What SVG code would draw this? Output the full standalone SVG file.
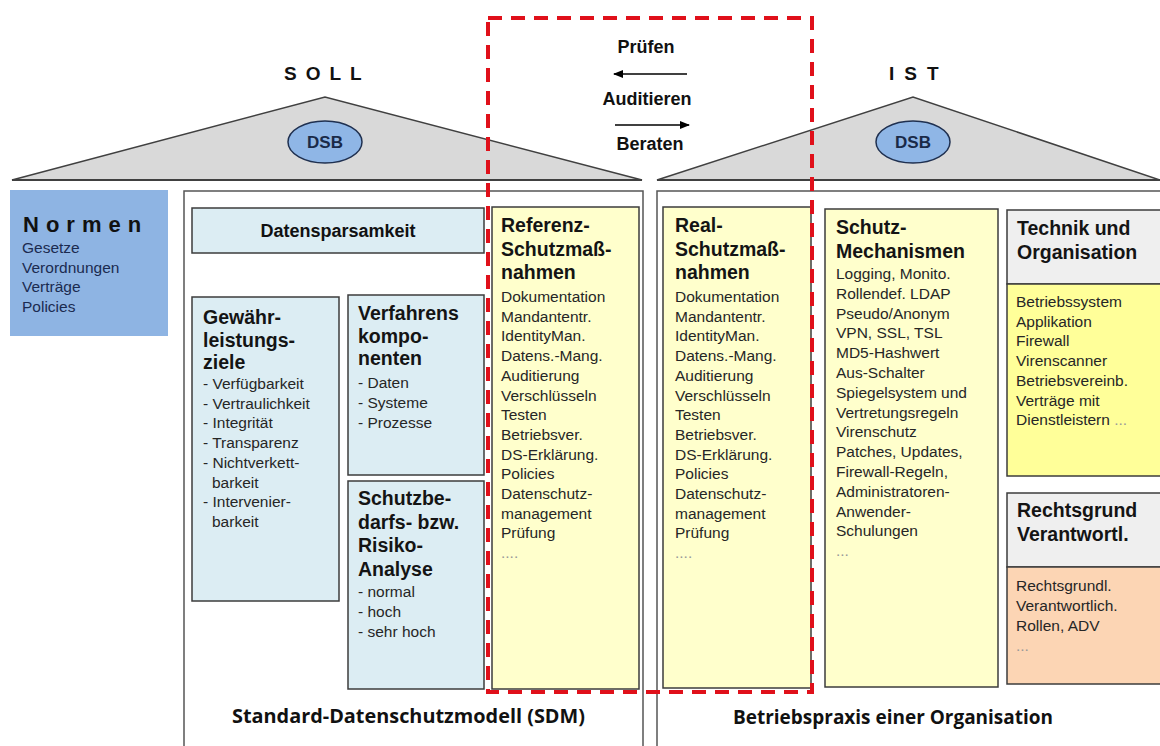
<svg xmlns="http://www.w3.org/2000/svg" width="1160" height="746" viewBox="0 0 1160 746">
<style>
text{font-family:"Liberation Sans",Arial,sans-serif;}
.t{font-size:19.5px;font-weight:bold;fill:#141414;}
.i{font-size:15.5px;fill:#262626;}
.box{stroke:#3c3c3c;stroke-width:1.5;}
.blue{fill:#dcedf3;}
.yel{fill:#ffffcc;}
.hdr{fill:#efefef;}
.wall{fill:none;stroke:#555;stroke-width:1.5;}
.roof{fill:#d9d9d9;stroke:#404040;stroke-width:1.5;}
.base{stroke:#404040;stroke-width:2;}
.dsb{fill:#8fb6e6;stroke:#1f3050;stroke-width:1.5;}
.dsbt{font-size:17px;font-weight:bold;fill:#1a2a48;text-anchor:middle;}
.big{font-size:19px;font-weight:bold;fill:#111;}
.lbl{font-size:18px;font-weight:bold;fill:#111;text-anchor:middle;}
.foot{font-family:"Open Sans","Noto Sans",sans-serif;font-size:19px;font-weight:bold;fill:#111;}
.norm{font-size:15.5px;fill:#1b2b50;}
.arrow{stroke:#000;stroke-width:1.5;fill:none;}
</style>
<defs>
<marker id="ah" markerWidth="10" markerHeight="8" refX="9" refY="4" orient="auto" markerUnits="userSpaceOnUse"><path d="M0,0 L10,4 L0,8 z" fill="#000"/></marker>
</defs>
<rect width="1160" height="746" fill="#ffffff"/>

<g id="soll-roof">
<polygon class="roof" points="12,180 325,97 642,180"/>
<line class="base" x1="12" y1="180" x2="642" y2="180"/>
<text class="big" x="284" y="80" letter-spacing="9">SOLL</text>
<ellipse class="dsb" cx="325" cy="142" rx="37" ry="21"/>
<text class="dsbt" x="325" y="148">DSB</text>
</g>

<g id="ist-roof">
<polygon class="roof" points="657,180 913,97 1160,180"/>
<line class="base" x1="657" y1="180" x2="1160" y2="180"/>
<text class="big" x="889" y="80" letter-spacing="10">IST</text>
<ellipse class="dsb" cx="913" cy="142" rx="37" ry="21"/>
<text class="dsbt" x="913" y="148">DSB</text>
</g>

<g id="soll-building">
<path class="wall" d="M184,746 V191 H643 V746"/>
<text class="foot" x="232" y="723" textLength="353" lengthAdjust="spacingAndGlyphs">Standard-Datenschutzmodell (SDM)</text>
</g>

<g id="ist-building">
<path class="wall" d="M657,746 V191 H1160"/>
<text class="foot" x="733" y="724" textLength="320" lengthAdjust="spacingAndGlyphs">Betriebspraxis einer Organisation</text>
</g>

<g id="normen">
<rect x="10" y="190" width="158" height="146" fill="#8eb4e3"/>
<text x="23" y="232" font-size="22" font-weight="bold" fill="#111" letter-spacing="7">Normen</text>
<text class="norm" x="22" y="253">Gesetze<tspan x="22" dy="19.5">Verordnungen</tspan><tspan x="22" dy="19.5">Verträge</tspan><tspan x="22" dy="19.5">Policies</tspan></text>
</g>

<g id="datensparsamkeit">
<rect class="box blue" x="192" y="208" width="292" height="45"/>
<text x="338" y="237" font-size="18" font-weight="bold" fill="#111" text-anchor="middle">Datensparsamkeit</text>
</g>

<g id="gewaehrleistungsziele">
<rect class="box blue" x="192" y="297" width="147" height="304"/>
<text class="t" x="203" y="324">Gewähr-<tspan x="203" dy="23">leistungs-</tspan><tspan x="203" dy="22">ziele</tspan></text>
<text class="i" x="203" y="389">- Verfügbarkeit<tspan x="203" dy="19.7">- Vertraulichkeit</tspan><tspan x="203" dy="19.7">- Integrität</tspan><tspan x="203" dy="19.7">- Transparenz</tspan><tspan x="203" dy="19.7">- Nichtverkett-</tspan><tspan x="212" dy="19.7">barkeit</tspan><tspan x="203" dy="19.7">- Intervenier-</tspan><tspan x="212" dy="19.7">barkeit</tspan></text>
</g>

<g id="verfahrenskomponenten">
<rect class="box blue" x="348" y="295" width="136" height="180"/>
<text class="t" x="358" y="320">Verfahrens<tspan x="358" dy="23">kompo-</tspan><tspan x="358" dy="22">nenten</tspan></text>
<text class="i" x="358" y="388">- Daten<tspan x="358" dy="20">- Systeme</tspan><tspan x="358" dy="20">- Prozesse</tspan></text>
</g>

<g id="schutzbedarf">
<rect class="box blue" x="348" y="481" width="136" height="208"/>
<text class="t" x="358" y="505">Schutzbe-<tspan x="358" dy="23.5">darfs- bzw.</tspan><tspan x="358" dy="23.5">Risiko-</tspan><tspan x="358" dy="23.5">Analyse</tspan></text>
<text class="i" x="358" y="597">- normal<tspan x="358" dy="20">- hoch</tspan><tspan x="358" dy="20">- sehr hoch</tspan></text>
</g>

<g id="referenz-schutzmassnahmen">
<rect class="box yel" x="492" y="207" width="147" height="482"/>
<text class="t" x="501" y="232">Referenz-<tspan x="501" dy="23.5">Schutzmaß-</tspan><tspan x="501" dy="23.5">nahmen</tspan></text>
<text class="i" x="501" y="302">Dokumentation<tspan x="501" dy="19.7">Mandantentr.</tspan><tspan x="501" dy="19.7">IdentityMan.</tspan><tspan x="501" dy="19.7">Datens.-Mang.</tspan><tspan x="501" dy="19.7">Auditierung</tspan><tspan x="501" dy="19.7">Verschlüsseln</tspan><tspan x="501" dy="19.7">Testen</tspan><tspan x="501" dy="19.7">Betriebsver.</tspan><tspan x="501" dy="19.7">DS-Erklärung.</tspan><tspan x="501" dy="19.7">Policies</tspan><tspan x="501" dy="19.7">Datenschutz-</tspan><tspan x="501" dy="19.7">management</tspan><tspan x="501" dy="19.7">Prüfung</tspan><tspan x="501" dy="19.7" fill="#999">....</tspan></text>
</g>

<g id="real-schutzmassnahmen">
<rect class="box yel" x="663" y="207" width="148" height="481"/>
<text class="t" x="675" y="232">Real-<tspan x="675" dy="23.5">Schutzmaß-</tspan><tspan x="675" dy="23.5">nahmen</tspan></text>
<text class="i" x="675" y="302">Dokumentation<tspan x="675" dy="19.7">Mandantentr.</tspan><tspan x="675" dy="19.7">IdentityMan.</tspan><tspan x="675" dy="19.7">Datens.-Mang.</tspan><tspan x="675" dy="19.7">Auditierung</tspan><tspan x="675" dy="19.7">Verschlüsseln</tspan><tspan x="675" dy="19.7">Testen</tspan><tspan x="675" dy="19.7">Betriebsver.</tspan><tspan x="675" dy="19.7">DS-Erklärung.</tspan><tspan x="675" dy="19.7">Policies</tspan><tspan x="675" dy="19.7">Datenschutz-</tspan><tspan x="675" dy="19.7">management</tspan><tspan x="675" dy="19.7">Prüfung</tspan><tspan x="675" dy="19.7" fill="#999">....</tspan></text>
</g>

<g id="schutz-mechanismen">
<rect class="box yel" x="825" y="209" width="173" height="478"/>
<text class="t" x="836" y="234">Schutz-<tspan x="836" dy="23.5">Mechanismen</tspan></text>
<text class="i" x="836" y="279">Logging, Monito.<tspan x="836" dy="19.8">Rollendef.  LDAP</tspan><tspan x="836" dy="19.8">Pseudo/Anonym</tspan><tspan x="836" dy="19.8">VPN, SSL, TSL</tspan><tspan x="836" dy="19.8">MD5-Hashwert</tspan><tspan x="836" dy="19.8">Aus-Schalter</tspan><tspan x="836" dy="19.8">Spiegelsystem und</tspan><tspan x="836" dy="19.8">Vertretungsregeln</tspan><tspan x="836" dy="19.8">Virenschutz</tspan><tspan x="836" dy="19.8">Patches, Updates,</tspan><tspan x="836" dy="19.8">Firewall-Regeln,</tspan><tspan x="836" dy="19.8">Administratoren-</tspan><tspan x="836" dy="19.8">Anwender-</tspan><tspan x="836" dy="19.8">Schulungen</tspan><tspan x="836" dy="19.8" fill="#999">...</tspan></text>
</g>

<g id="technik-organisation">
<rect class="box hdr" x="1007" y="210" width="160" height="74"/>
<rect class="box" x="1007" y="284" width="160" height="192" fill="#ffff99"/>
<text class="t" x="1017" y="235">Technik und<tspan x="1017" dy="24">Organisation</tspan></text>
<text class="i" x="1016" y="307">Betriebssystem<tspan x="1016" dy="19.7">Applikation</tspan><tspan x="1016" dy="19.7">Firewall</tspan><tspan x="1016" dy="19.7">Virenscanner</tspan><tspan x="1016" dy="19.7">Betriebsvereinb.</tspan><tspan x="1016" dy="19.7">Verträge mit</tspan><tspan x="1016" dy="19.7">Dienstleistern <tspan fill="#999">...</tspan></tspan></text>
</g>

<g id="rechtsgrund">
<rect class="box hdr" x="1007" y="493" width="160" height="74"/>
<rect class="box" x="1007" y="567" width="160" height="117" fill="#fcd5b4"/>
<text class="t" x="1017" y="517">Rechtsgrund<tspan x="1017" dy="24">Verantwortl.</tspan></text>
<text class="i" x="1016" y="591">Rechtsgrundl.<tspan x="1016" dy="20">Verantwortlich.</tspan><tspan x="1016" dy="20">Rollen, ADV</tspan><tspan x="1016" dy="20" fill="#999">...</tspan></text>
</g>

<g id="connectors">
<line class="arrow" x1="687" y1="74" x2="614" y2="74" marker-end="url(#ah)"/>
<line class="arrow" x1="615" y1="125" x2="689" y2="125" marker-end="url(#ah)"/>
<text class="lbl" x="646" y="53">Prüfen</text>
<text class="lbl" x="647" y="105">Auditieren</text>
<text class="lbl" x="650" y="150">Beraten</text>
</g>

<g id="audit-frame">
<rect x="488" y="18" width="324" height="674" fill="none" stroke="#e0101a" stroke-width="4" stroke-dasharray="14 9"/>
</g>
</svg>
